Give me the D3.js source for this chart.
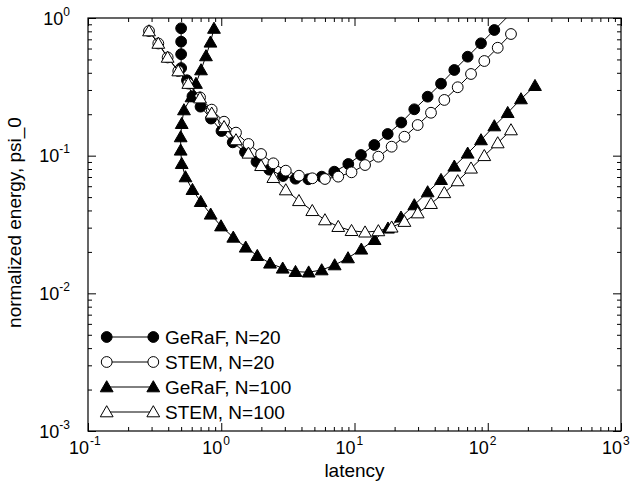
<!DOCTYPE html>
<html>
<head>
<meta charset="utf-8">
<script src="https://cdn.jsdelivr.net/npm/d3@7"></script>
<style>
  body { margin: 0; background: #fff; }
  svg { display: block; font-family: "Liberation Sans", Arial, sans-serif; }
</style>
</head>
<body>
<div class="chart"></div>
<script>
// latency values (x) and normalized energy psi_0 (y)
let stemLatency = [0.287, 0.337, 0.396, 0.476, 0.566, 0.693, 0.848, 1.05, 1.29, 1.60,
    1.99, 2.46, 3.05, 3.83, 4.82, 6.0, 7.55, 9.5, 12.0, 15.1,
    19.0, 23.7, 29.8, 37.5, 47.2, 59.5, 74.9, 94.2, 118.8, 149.4];
let stem20Energy = [0.804, 0.653, 0.517, 0.412, 0.334, 0.265, 0.216, 0.1765, 0.147, 0.1216,
    0.1028, 0.088, 0.0778, 0.0715, 0.0685, 0.0677, 0.0704, 0.0757, 0.0855, 0.0983,
    0.1162, 0.1373, 0.167, 0.205, 0.254, 0.314, 0.392, 0.487, 0.608, 0.765];
let stem100Energy = [0.804, 0.653, 0.517, 0.412, 0.334, 0.262, 0.203, 0.162, 0.130, 0.104,
    0.0845, 0.0692, 0.0563, 0.047, 0.0398, 0.0341, 0.0305, 0.0285, 0.0278, 0.0284,
    0.0302, 0.0332, 0.0383, 0.0448, 0.0537, 0.0655, 0.081, 0.0998, 0.1236, 0.1536];

let geraf20Latency = [0.5, 0.5, 0.5, 0.5, 0.553, 0.608, 0.699, 0.838, 1.004, 1.219,
    1.507, 1.839, 2.294, 2.907, 3.607, 4.501, 5.673, 7.053, 8.985, 11.19,
    14.08, 17.75, 22.45, 28.1, 35.4, 44.6, 56.1, 70.7, 89.0, 112.0, 140.9];
let geraf20Energy = [0.842, 0.673, 0.546, 0.433, 0.353, 0.270, 0.227, 0.186, 0.151, 0.125,
    0.106, 0.0904, 0.0791, 0.0712, 0.068, 0.0674, 0.0704, 0.0765, 0.087, 0.1011,
    0.1196, 0.1437, 0.1741, 0.2172, 0.2682, 0.3333, 0.4192, 0.5235, 0.655, 0.818, 1.022];

let geraf100Latency = [0.882, 0.830, 0.768, 0.705, 0.646, 0.598, 0.525, 0.505, 0.496, 0.496,
    0.505, 0.539, 0.608, 0.701, 0.833, 0.996, 1.231, 1.526, 1.864, 2.322,
    2.892, 3.607, 4.53, 5.673, 7.10, 8.94, 11.25, 14.15, 17.84, 22.34,
    28.1, 35.4, 44.6, 56.1, 70.7, 89.0, 112.0, 141.2, 177.6, 226.2];
let geraf100Energy = [0.839, 0.666, 0.530, 0.419, 0.334, 0.2668, 0.2147, 0.1707, 0.1367, 0.1094,
    0.0874, 0.0700, 0.0566, 0.0463, 0.0375, 0.0308, 0.0255, 0.0216, 0.01877, 0.01653,
    0.0152, 0.01436, 0.01424, 0.01477, 0.01606, 0.01806, 0.02089, 0.02452, 0.02969, 0.03567,
    0.04383, 0.05446, 0.0669, 0.0837, 0.104, 0.130, 0.1642, 0.2051, 0.258, 0.3223];

let seriesNames = ["GeRaF, N=20", "STEM, N=20", "GeRaF, N=100", "STEM, N=100"];
let xMajor = [0.1, 1, 10, 100, 1000];
let yMajor = [0.001, 0.01, 0.1, 1];

var width = 633, height = 489;
var plotLeft = 88, plotRight = 621, plotTop = 18, plotBottom = 431;

let series = [
    {name: seriesNames[0], xs: geraf20Latency, ys: geraf20Energy, shape: 'circle', filled: true},
    {name: seriesNames[1], xs: stemLatency, ys: stem20Energy, shape: 'circle', filled: false},
    {name: seriesNames[2], xs: geraf100Latency, ys: geraf100Energy, shape: 'triangle', filled: true},
    {name: seriesNames[3], xs: stemLatency, ys: stem100Energy, shape: 'triangle', filled: false}
];

let x = d3.scaleLog().domain([0.1, 1000]).range([plotLeft, plotRight]);
let y = d3.scaleLog().domain([0.001, 1]).range([plotBottom, plotTop]);

function minorTicks(majors) {
    let out = [];
    for (let i = 0; i < majors.length - 1; i++) {
        for (let k = 2; k <= 9; k++) out.push(majors[i] * k);
    }
    return out;
}

let svg = d3.select('.chart').append('svg')
    .attr('width', width)
    .attr('height', height);

svg.append('defs').append('clipPath').attr('id', 'plotclip')
    .append('rect')
    .attr('x', plotLeft).attr('y', plotTop)
    .attr('width', plotRight - plotLeft).attr('height', plotBottom - plotTop);

// ticks on all four sides, pointing inward
function tickAxis(gen, tx, ty, values, len) {
    let g = svg.append('g')
        .attr('transform', 'translate(' + tx + ',' + ty + ')')
        .call(gen.tickValues(values).tickSize(-len).tickFormat(''));
    g.select('.domain').remove();
    g.selectAll('line').attr('stroke', '#000').attr('stroke-width', 1);
}
tickAxis(d3.axisBottom(x), 0, plotBottom, xMajor, 8);
tickAxis(d3.axisBottom(x), 0, plotBottom, minorTicks(xMajor), 4);
tickAxis(d3.axisTop(x), 0, plotTop, xMajor, 8);
tickAxis(d3.axisTop(x), 0, plotTop, minorTicks(xMajor), 4);
tickAxis(d3.axisLeft(y), plotLeft, 0, yMajor, 8);
tickAxis(d3.axisLeft(y), plotLeft, 0, minorTicks(yMajor), 4);
tickAxis(d3.axisRight(y), plotRight, 0, yMajor, 8);
tickAxis(d3.axisRight(y), plotRight, 0, minorTicks(yMajor), 4);

svg.append('rect')
    .attr('x', plotLeft).attr('y', plotTop)
    .attr('width', plotRight - plotLeft).attr('height', plotBottom - plotTop)
    .attr('fill', 'none')
    .attr('stroke', '#000')
    .attr('stroke-width', 1.2);

// tick labels 10^n
xMajor.forEach(v => {
    let e = Math.round(Math.log10(v));
    svg.append('text')
        .attr('x', x(v) + 1).attr('y', 454)
        .attr('text-anchor', 'end')
        .attr('font-size', 18)
        .text('10');
    svg.append('text')
        .attr('x', x(v) + 2).attr('y', 445)
        .attr('font-size', 12)
        .text(e);
});
yMajor.forEach(v => {
    let e = Math.round(Math.log10(v));
    let t = svg.append('text')
        .attr('x', 70).attr('y', y(v) + 6.5)
        .attr('text-anchor', 'end')
        .attr('font-size', 18);
    t.append('tspan').text('10');
    t.append('tspan').attr('dy', -9).attr('font-size', 12).text(e);
});

svg.append('text')
    .attr('x', (plotLeft + plotRight) / 2).attr('y', 477)
    .attr('text-anchor', 'middle')
    .attr('font-size', 19)
    .text('latency');
svg.append('text')
    .attr('transform', 'translate(21,' + ((plotTop + plotBottom) / 2 - 2) + ') rotate(-90)')
    .attr('text-anchor', 'middle')
    .attr('font-size', 19)
    .text('normalized energy, psi_0');

let triPath = 'M0,-6.3L6.4,4.8L-6.4,4.8Z';

function drawMarker(g, cx, cy, s) {
    let m;
    if (s.shape === 'circle') {
        m = g.append('circle').attr('cx', cx).attr('cy', cy).attr('r', 5.4);
    } else {
        m = g.append('path').attr('d', triPath)
            .attr('transform', 'translate(' + cx + ',' + cy + ')');
    }
    m.attr('fill', s.filled ? '#000' : '#fff')
        .attr('stroke', '#000')
        .attr('stroke-width', 1);
}

let plot = svg.append('g');
let line = d3.line().x(d => x(d[0])).y(d => y(d[1]));

series.forEach(s => {
    let pts = s.xs.map((v, i) => [v, s.ys[i]]);
    plot.append('path')
        .datum(pts)
        .attr('d', line)
        .attr('clip-path', 'url(#plotclip)')
        .attr('fill', 'none')
        .attr('stroke', '#000')
        .attr('stroke-width', 1);
    let mg = plot.append('g');
    pts.filter(d => d[1] <= 1 && d[1] >= 0.001).forEach(d => {
        drawMarker(mg, x(d[0]), y(d[1]), s);
    });
});

// legend
let legendRows = [337, 362, 387, 412];
series.forEach((s, i) => {
    let ly = legendRows[i];
    let g = svg.append('g');
    g.append('line')
        .attr('x1', 106.7).attr('x2', 153.3)
        .attr('y1', ly).attr('y2', ly)
        .attr('stroke', '#000').attr('stroke-width', 1);
    drawMarker(g, 106.7, ly, s);
    drawMarker(g, 153.3, ly, s);
    g.append('text')
        .attr('x', 165).attr('y', ly + 7)
        .attr('font-size', 19)
        .text(s.name);
});
</script>
</body>
</html>
